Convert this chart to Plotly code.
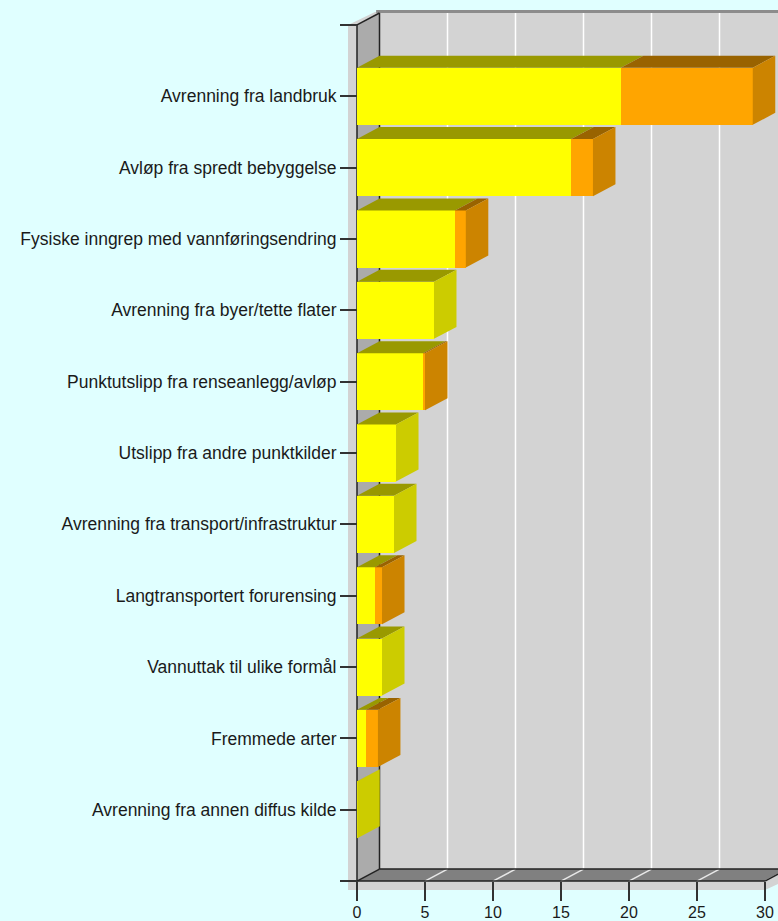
import plotly.graph_objects as go

categories = ["Avrenning fra landbruk", "Avløp fra spredt bebyggelse",
              "Fysiske inngrep med vannføringsendring", "Avrenning fra byer/tette flater",
              "Punktutslipp fra renseanlegg/avløp", "Utslipp fra andre punktkilder",
              "Avrenning fra transport/infrastruktur", "Langtransportert forurensing",
              "Vannuttak til ulike formål", "Fremmede arter", "Avrenning fra annen diffus kilde"]
yellow_values = [19.4, 15.75, 7.2, 5.66, 4.85, 2.87, 2.72, 1.32, 1.84, 0.66, 0.02]
orange_values = [9.7, 1.6, 0.8, 0.0, 0.15, 0.0, 0.0, 0.52, 0.0, 0.88, 0.0]
x_ticks = [0, 5, 10, 15, 20, 25, 30]

W, H = 778, 921
X0, Y0, PX_X, PX_Y = 357, 25, 13.6, 71.5      # axis origin and pixels per unit
DX, DY = 22.5 / PX_X, -12 / PX_Y               # 3D depth in data units
BAR = 0.8
N = len(categories)
positions = list(range(1, N + 1))
XMAX = x_ticks[-1]

fig = go.Figure()
shapes = []


def wall(xs, ys, color):
    d = "M" + " L".join(f"{x},{y}" for x, y in zip(xs, ys)) + " Z"
    shapes.append(dict(type="path", path=d, xref="x", yref="y", layer="below",
                       fillcolor=color, line=dict(width=0)))


def edge(xs, ys, color, width=1.5):
    shapes.append(dict(type="line", x0=xs[0], x1=xs[1], y0=ys[0], y1=ys[1], xref="x", yref="y",
                       layer="below", line=dict(color=color, width=width)))


def poly(xs, ys, color):
    fig.add_trace(go.Scatter(x=xs, y=ys, mode="lines", fill="toself", fillcolor=color,
                             line=dict(width=0), hoverinfo="skip", showlegend=False))


GRAY = "#D3D3D3"
xr = (W - X0) / PX_X
sx, sy = -9 / PX_X, 9 / PX_Y
wall([sx, DX * 0.8, xr + 1, xr + 1, XMAX + 1, XMAX, sx],
     [0, DY * 1.08, DY * 1.08, N + 1 + 1 / 7, N + 1 + sy * 0.3, N + 1 + sy, N + 1 + sy], GRAY)
edge([DX * 0.85, xr + 1], [DY * 1.12, DY * 1.12], "#8c8c8c", 3)
wall([0, DX, DX, 0], [0, DY, N + 1 + DY, N + 1], "#ABABAB")
wall([0, DX, XMAX + DX, XMAX], [N + 1, N + 1 + DY, N + 1 + DY, N + 1], "#808080")
for t in x_ticks[1:]:
    edge([t + DX, t + DX], [DY, N + 1 + DY], "#FFFFFF", 1.5)
    edge([t, t + DX], [N + 1, N + 1 + DY], "#E8E8E8", 1.5)
edge([DX, DX], [DY, N + 1 + DY], "#222222")
edge([DX, XMAX + DX], [N + 1 + DY, N + 1 + DY], "#222222")
edge([0, DX], [0, DY], "#222222")
edge([0, DX], [N + 1, N + 1 + DY], "#222222")
edge([XMAX, XMAX + DX], [N + 1, N + 1 + DY], "#222222")
edge([0, 0], [0, N + 1], "#222222")
edge([0, XMAX], [N + 1, N + 1], "#222222")

# front faces
fig.add_trace(go.Bar(y=positions, x=yellow_values, orientation="h", width=BAR,
                     marker=dict(color="#FFFF00", line=dict(width=0)), showlegend=False))
fig.add_trace(go.Bar(y=positions, x=orange_values, orientation="h", width=BAR,
                     marker=dict(color="#FFA500", line=dict(width=0)), showlegend=False))

# 3D bar faces
for p, a, b in zip(positions, yellow_values, orange_values):
    top = p - BAR / 2
    bot = p + BAR / 2
    total = a + b
    poly([0, DX, a + DX, a], [top, top + DY, top + DY, top], "#999900")
    if b > 0:
        poly([a, a + DX, total + DX, total], [top, top + DY, top + DY, top], "#996300")
    poly([total, total + DX, total + DX, total], [top, top + DY, bot + DY, bot],
         "#CC8400" if b > 0 else "#CCCC00")

family = "Liberation Sans, Arial, sans-serif"
fig.update_layout(
    width=W, height=H, margin=dict(l=0, r=0, t=0, b=0, pad=0),
    paper_bgcolor="#E0FFFF", plot_bgcolor="rgba(0,0,0,0)",
    barmode="stack", showlegend=False, shapes=shapes,
    xaxis=dict(range=[-X0 / PX_X, (W - X0) / PX_X], domain=[0, 1],
               anchor="free", position=1 - (Y0 + (N + 1) * PX_Y) / H,
               tickmode="array", tickvals=x_ticks, ticktext=[str(t) for t in x_ticks],
               ticks="outside", ticklen=19, tickwidth=1.5, tickcolor="#333333",
               ticklabelstandoff=-2,
               showgrid=False, zeroline=False, showline=False,
               tickfont=dict(family=family, size=16, color="#1a1a1a")),
    yaxis=dict(range=[(H - Y0) / PX_Y, -Y0 / PX_Y], domain=[0, 1],
               anchor="free", position=X0 / W,
               tickmode="array", tickvals=[0] + positions + [N + 1],
               ticktext=[""] + categories + [""],
               ticks="outside", ticklen=17, tickwidth=1.5, tickcolor="#333333",
               showgrid=False, zeroline=False, showline=False,
               tickfont=dict(family=family, size=17.5, color="#1a1a1a")),
)
fig.write_html("out.html", config={"displayModeBar": False},
               post_script="document.body.style.margin='0';document.documentElement.style.background='#E0FFFF';")
